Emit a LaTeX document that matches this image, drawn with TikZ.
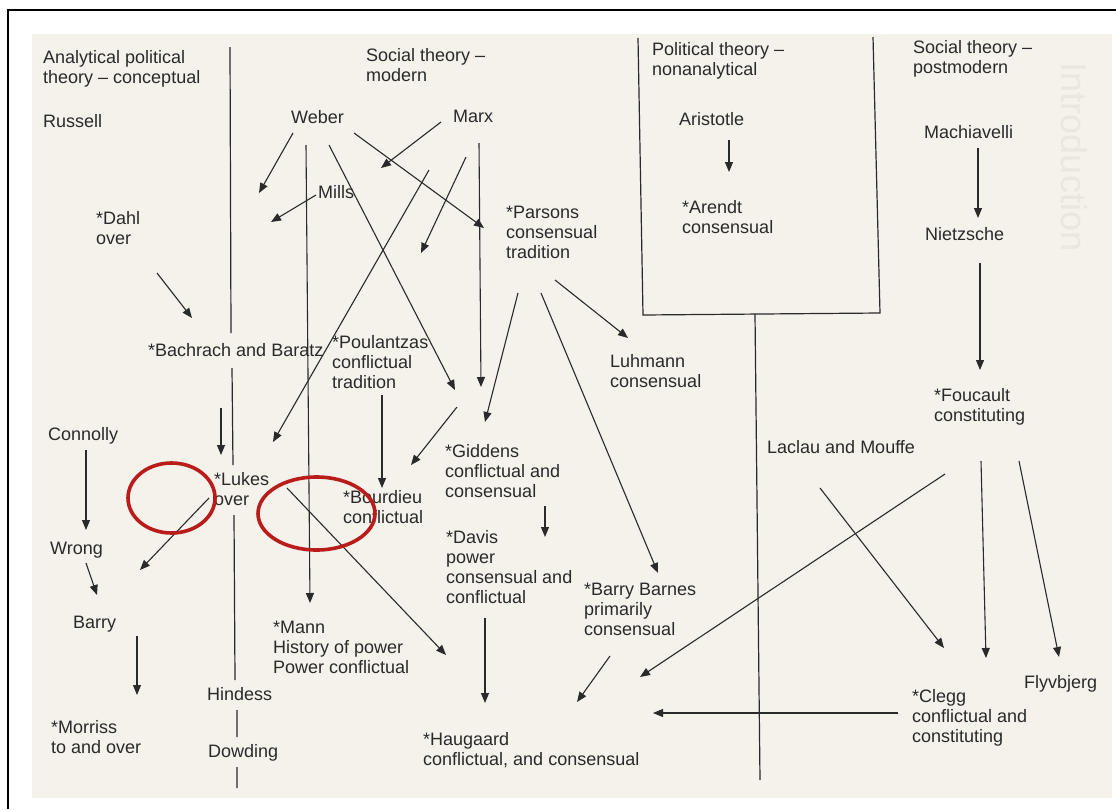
\documentclass[tikz,border=0pt]{standalone}
\usepackage{fontspec}
\setmainfont{Liberation Sans}
\usetikzlibrary{arrows.meta}
\definecolor{ink}{HTML}{2A2A2A}
\definecolor{paper}{HTML}{F4F2EA}
\definecolor{ghost}{HTML}{EAE7DF}
\definecolor{marker}{HTML}{BA1C1C}
\tikzset{
  lbl/.style={anchor=base west,align=left,inner sep=0pt,text=ink,font=\fontsize{18}{20}\selectfont},
  rule/.style={line width=1.2pt,draw=ink},
  arr/.style={-{Triangle[length=10pt,width=8pt]},line width=1.1pt,draw=ink},
  ring/.style={draw=marker,line width=3.6pt}
}
\begin{document}
\begin{tikzpicture}[x=1pt,y=-1pt]
  \useasboundingbox (0,0) rectangle (1116,809);
  \fill[paper] (32,34) rectangle (1112,798);
  \draw[line width=2pt] (8,809) -- (8,10) -- (1116,10);
  \node[rotate=-90,text=ghost,inner sep=0pt,font=\fontsize{36}{36}\selectfont] (intro) at (1074,157) {Introduction};

  \node[lbl] (apt) at (43,83) {Analytical political\\theory -- conceptual};
  \node[lbl] (stm) at (366,81) {Social theory --\\modern};
  \node[lbl] (ptn) at (652,75) {Political theory --\\nonanalytical};
  \node[lbl] (stp) at (913,73) {Social theory --\\postmodern};

  \node[lbl] (russell) at (43,127) {Russell};
  \node[lbl] (weber) at (291,123) {Weber};
  \node[lbl] (marx) at (453,122) {Marx};
  \node[lbl] (mills) at (318,198) {Mills};
  \node[lbl] (dahl) at (96,244) {*Dahl\\over};
  \node[lbl] (parsons) at (506,258) {*Parsons\\consensual\\tradition};
  \node[lbl] (bachrach) at (148,356) {*Bachrach and Baratz};
  \node[lbl] (poulantzas) at (332,388) {*Poulantzas\\conflictual\\tradition};
  \node[lbl] (aristotle) at (679,125) {Aristotle};
  \node[lbl] (arendt) at (682,233) {*Arendt\\consensual};
  \node[lbl] (machiavelli) at (924,138) {Machiavelli};
  \node[lbl] (nietzsche) at (925,240) {Nietzsche};
  \node[lbl] (foucault) at (934,421) {*Foucault\\constituting};
  \node[lbl] (luhmann) at (610,387) {Luhmann\\consensual};
  \node[lbl] (connolly) at (48,440) {Connolly};
  \node[lbl] (lukes) at (214,505) {*Lukes\\over};
  \node[lbl] (bourdieu) at (343,523) {*Bourdieu\\conflictual};
  \node[lbl] (giddens) at (445,497) {*Giddens\\conflictual and\\consensual};
  \node[lbl] (laclau) at (767,453) {Laclau and Mouffe};
  \node[lbl] (wrong) at (50,554) {Wrong};
  \node[lbl] (davis) at (446,603) {*Davis\\power\\consensual and\\conflictual};
  \node[lbl] (barnes) at (584,635) {*Barry Barnes\\primarily\\consensual};
  \node[lbl] (barry) at (73,628) {Barry};
  \node[lbl] (mann) at (273,673) {*Mann\\History of power\\Power conflictual};
  \node[lbl] (flyvbjerg) at (1024,688) {Flyvbjerg};
  \node[lbl] (hindess) at (207,700) {Hindess};
  \node[lbl] (clegg) at (912,742) {*Clegg\\conflictual and\\constituting};
  \node[lbl] (morriss) at (51,753) {*Morriss\\to and over};
  \node[lbl] (haugaard) at (423,765) {*Haugaard\\conflictual, and consensual};
  \node[lbl] (dowding) at (208,757) {Dowding};

  \draw[rule] (230,47) -- (231,333) (232,368) -- (233,465) (234,515) -- (235,680)
    (237,710) -- (237,737) (237,767) -- (237,788);
  \draw[rule] (638,38) -- (643,315) -- (880,313) -- (873,37);
  \draw[rule] (755,314) -- (760,780);

  \foreach \nm/\p/\q in {wA/{293,133}/{259,193}, mA/{441,122}/{381,168},
      mi/{316,195}/{271,222}, wB/{306,145}/{310,603}, wC/{329,145}/{455,390},
      wD/{354,133}/{484,228}, mB/{479,143}/{481,387}, mC/{466,157}/{421,253},
      mD/{429,170}/{273,442}, da/{157,273}/{192,318}, pA/{518,293}/{485,422},
      pB/{555,280}/{628,338}, pC/{541,293}/{658,573}, ar/{729,140}/{729,172},
      ma/{978,148}/{978,218}, ni/{980,263}/{980,370}, ba/{221,408}/{221,455},
      po/{382,395}/{382,488}, gB/{457,407}/{411,465}, co/{86,450}/{86,530},
      wr/{86,563}/{97,595}, by/{137,636}/{137,695}, lA/{209,498}/{140,570},
      lB/{287,488}/{446,655}, gi/{545,506}/{545,537}, dv/{485,618}/{485,703},
      lm/{820,488}/{944,648}, fA/{945,474}/{640,677}, fB/{981,461}/{986,658},
      fC/{1019,461}/{1059,657}, cl/{898,713}/{653,713}, bb/{610,656}/{577,702}} {
    \coordinate (\nm-s) at (\p);
    \coordinate (\nm-t) at (\q);
    \draw[arr] (\nm-s) -- (\nm-t);
  }

  \draw[ring] (171.5,498) ellipse [x radius=43.5,y radius=35];
  \draw[ring] (316.5,513.5) ellipse [x radius=58.5,y radius=36.5];
\end{tikzpicture}
\end{document}
